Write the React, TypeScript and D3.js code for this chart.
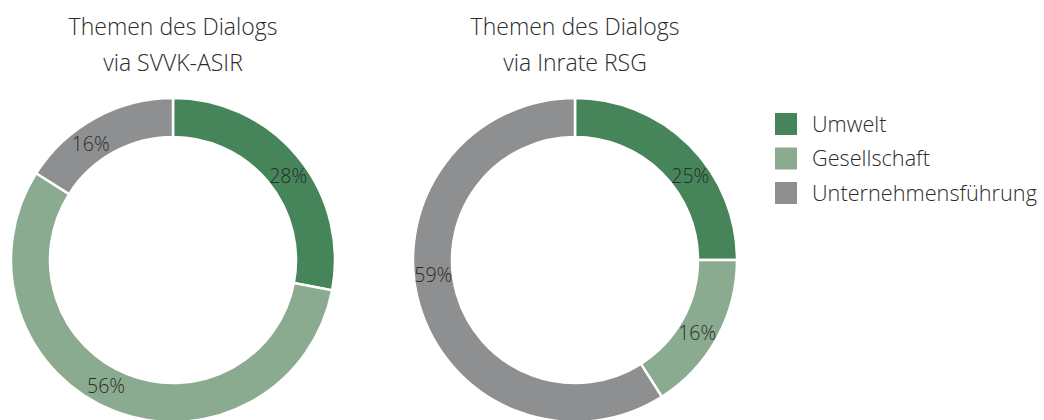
import React from "react";
import * as d3 from "d3";

const categories = ["Umwelt", "Gesellschaft", "Unternehmensführung"];
const colors = ["#46845a", "#8aab8f", "#8e8f91"];
const titlesA = ["Themen des Dialogs", "via SVVK-ASIR"];
const titlesB = ["Themen des Dialogs", "via Inrate RSG"];
const valuesA = [28, 56, 16];
const valuesB = [25, 16, 59];
// label angle nudges (degrees) to mimic the original hand-placed labels
const nudgeA = [3.5, 6.4, -6.5];
const nudgeB = [9, 2.2, 10.2];

const W = 1044;
const H = 420;
const R = 162;
const r = 123;
const FONT = "'Open Sans', sans-serif";
const TEXT = "#2b2b2b";

function Donut({ cx, cy, values, title, nudge }: { cx: number; cy: number; values: number[]; title: string[]; nudge: number[] }) {
  const pie = d3.pie<number>().sort(null).value((d) => d);
  const arcs = pie(values);
  const arc = d3.arc<d3.PieArcDatum<number>>().innerRadius(r).outerRadius(R);
  const labelR = (R + r) / 2;
  return (
    <g>
      {title.map((t, i) => (
        <text key={i} x={cx} y={35 + i * 35.5} textAnchor="middle" fontSize={23} fontWeight={300} fill={TEXT} fontFamily={FONT}>
          {t}
        </text>
      ))}
      <g transform={`translate(${cx},${cy})`}>
        {arcs.map((a, i) => (
          <path key={i} d={arc(a) || ""} fill={colors[i]} stroke="#fff" strokeWidth={2.5} />
        ))}
        {arcs.map((a, i) => {
          const ang = (a.startAngle + a.endAngle) / 2 + (nudge[i] * Math.PI) / 180;
          const x = labelR * Math.sin(ang);
          const y = -labelR * Math.cos(ang);
          return (
            <text key={"l" + i} x={x} y={y} dy="0.36em" textAnchor="middle" fontSize={19.5} fontWeight={300} fill={TEXT} fontFamily={FONT}>
              {`${values[i]}%`}
            </text>
          );
        })}
      </g>
    </g>
  );
}

export default function App() {
  return (
    <svg width={W} height={H} style={{ position: "absolute", left: 0, top: 0, background: "#fff" }}>
      <rect width={W} height={H} fill="#fff" />
      <Donut cx={173} cy={260} values={valuesA} title={titlesA} nudge={nudgeA} />
      <Donut cx={575} cy={260} values={valuesB} title={titlesB} nudge={nudgeB} />
      {categories.map((c, i) => (
        <g key={c}>
          <rect x={775} y={113 + i * 34.5} width={22} height={22} fill={colors[i]} />
          <text x={812} y={124 + i * 34.5} dy="0.36em" fontSize={21.7} fontWeight={300} fill={TEXT} fontFamily={FONT}>
            {c}
          </text>
        </g>
      ))}
    </svg>
  );
}
